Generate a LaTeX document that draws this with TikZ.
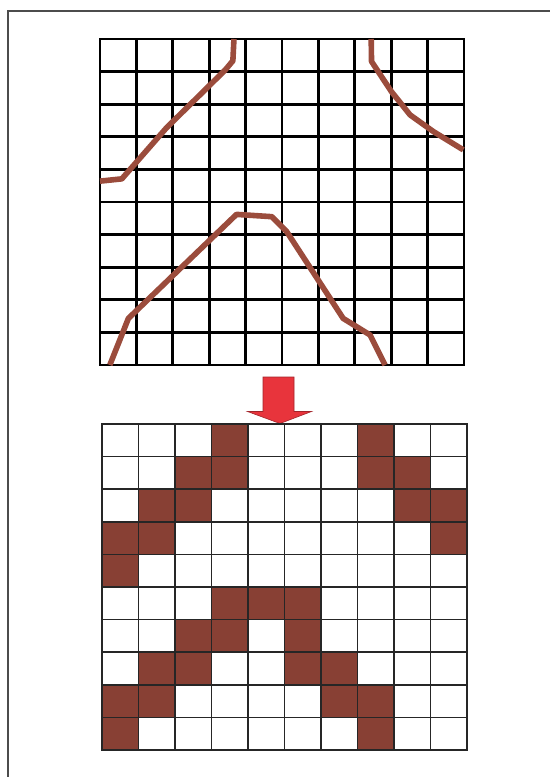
\documentclass[tikz,border=0pt]{standalone}
\usepackage{xcolor}
\usepackage{tikz}
\definecolor{lineBrown}{RGB}{155,76,60}
\definecolor{cellBrown}{RGB}{136,64,52}
\definecolor{arrowRed}{RGB}{232,52,60}
\tikzset{
  gridline/.style={black,line width=2.8pt,line cap=rect},
  thingrid/.style={black!85,line width=1.6pt,line cap=rect},
  contour/.style={lineBrown,line width=5.6pt,line join=round},
  pixel/.style={fill=cellBrown},
}
\begin{document}
\begin{tikzpicture}[x=1pt,y=-1pt]
\useasboundingbox (0,0) rectangle (550,777);
\fill[white] (0,0) rectangle (550,777);
% page frame, only top and left edges show on the scan
\draw[black!70,line width=1.3pt] (8,777) -- (8,11) -- (550,11);
\begin{scope}[shift={(100,39)},x=36.4pt,y=-32.6pt]
\foreach \k in {0,...,10} {
  \draw[gridline] (\k,0) -- (\k,10);
  \draw[gridline] (0,\k) -- (10,\k);
}
\draw[contour] (3.68,0) -- (3.65,0.67) -- (3.44,0.95) -- (1.83,2.72) -- (0.60,4.29) -- (0,4.36);
\draw[contour] (7.45,0) -- (7.46,0.69) -- (8.01,1.62) -- (8.52,2.33) -- (9.16,2.84) -- (9.98,3.40);
\draw[contour] (0.27,10) -- (0.78,8.57) -- (3.75,5.38) -- (4.72,5.45) -- (5.13,5.91) -- (6.68,8.57) -- (7.42,9.08) -- (7.83,10);
\end{scope}
\filldraw[fill=arrowRed,draw=arrowRed!70!black,line width=0.6pt]
  (263,377) -- (294,377) -- (294,411.5) -- (311.5,411.5) -- (280,423.5) -- (247.5,411.5) -- (263,411.5) -- cycle;
\begin{scope}[shift={(102,424)},x=36.5pt,y=-32.6pt]
\foreach \c/\r in {3/0,7/0, 2/1,3/1,7/1,8/1, 1/2,2/2,8/2,9/2, 0/3,1/3,9/3, 0/4,
  3/5,4/5,5/5, 2/6,3/6,5/6, 1/7,2/7,5/7,6/7, 0/8,1/8,6/8,7/8, 0/9,7/9}
  \fill[pixel] (\c,\r) rectangle ++(1,1);
\foreach \k in {0,...,10} {
  \draw[thingrid] (\k,0) -- (\k,10);
  \draw[thingrid] (0,\k) -- (10,\k);
}
\end{scope}
\end{tikzpicture}
\end{document}
